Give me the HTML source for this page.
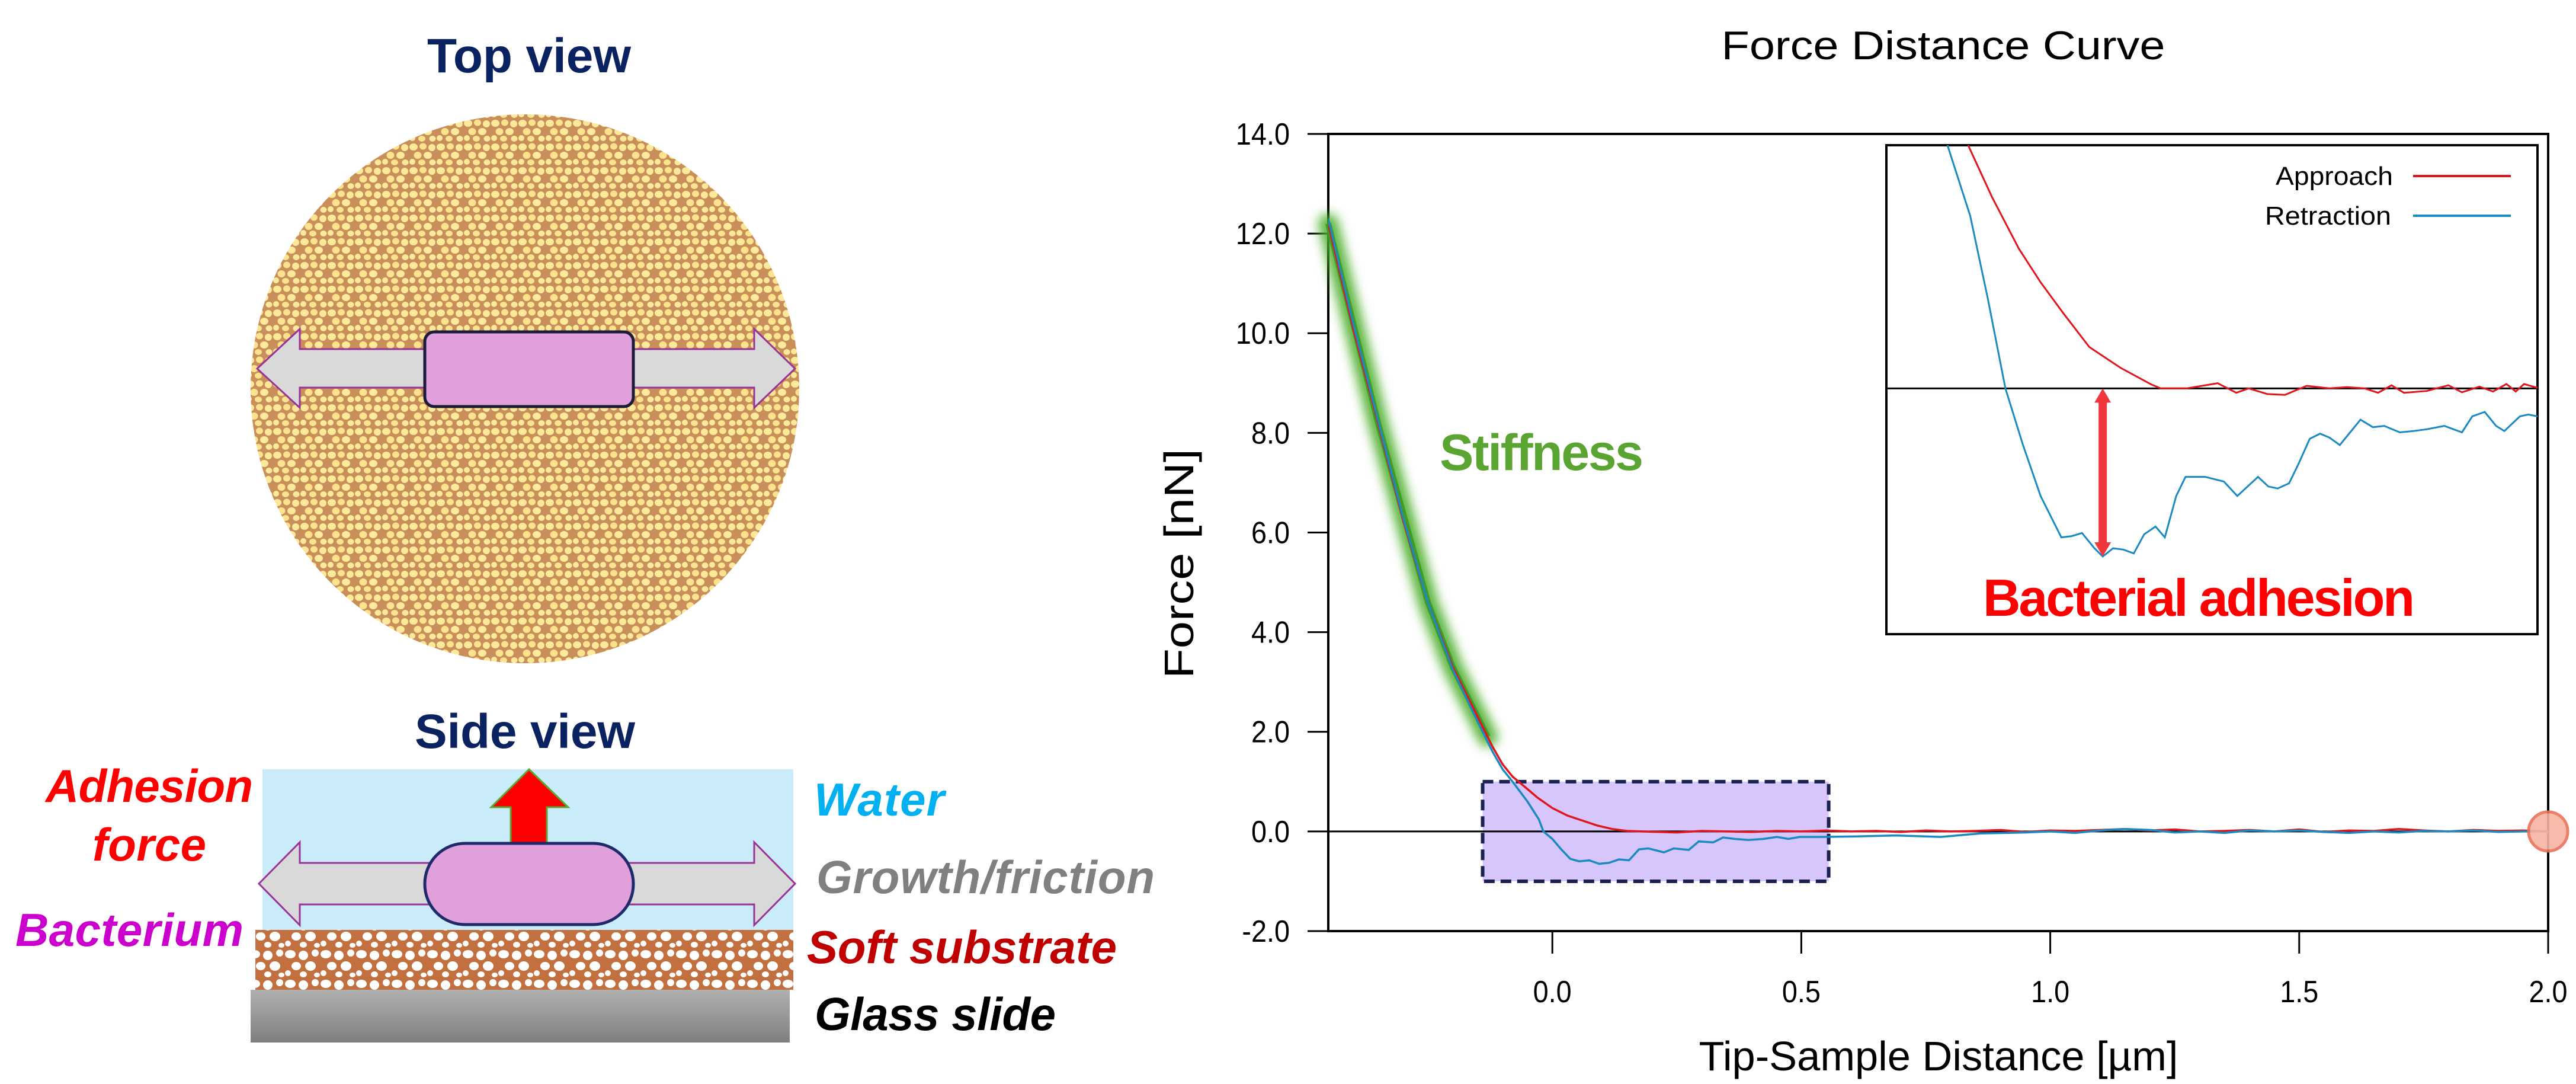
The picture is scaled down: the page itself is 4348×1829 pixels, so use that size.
<!DOCTYPE html>
<html><head><meta charset="utf-8">
<style>
html,body{margin:0;padding:0;background:#fff;}
svg{display:block;}
text{font-family:"Liberation Sans",Arial,sans-serif;}
</style></head>
<body>
<svg id="root" width="4348" height="1829" viewBox="0 0 4348 1829" xmlns="http://www.w3.org/2000/svg">
<defs>
  <pattern id="cells" width="46" height="40" patternUnits="userSpaceOnUse">
    <rect width="46" height="40" fill="#c98f5a"/>
    <ellipse cx="8" cy="8" rx="7" ry="6" fill="#fde99a"/>
    <ellipse cx="24" cy="7" rx="6" ry="5.5" fill="#fbe28c"/>
    <ellipse cx="39" cy="9" rx="6" ry="6" fill="#fde99a"/>
    <ellipse cx="15" cy="22" rx="6.5" ry="6" fill="#fbe28c"/>
    <ellipse cx="32" cy="22" rx="7" ry="6" fill="#fde99a"/>
    <ellipse cx="6" cy="33" rx="5" ry="5" fill="#fde99a"/>
    <ellipse cx="22" cy="34" rx="6" ry="5" fill="#fbe28c"/>
    <ellipse cx="40" cy="34" rx="5.5" ry="5" fill="#fde99a"/>
  </pattern>
  <pattern id="subs" width="60" height="50" patternUnits="userSpaceOnUse">
    <rect width="60" height="50" fill="#c2703f"/>
    <ellipse cx="10" cy="10" rx="9" ry="7" fill="#fff"/>
    <ellipse cx="32" cy="12" rx="8" ry="8" fill="#fff"/>
    <ellipse cx="52" cy="8" rx="6" ry="6" fill="#fff"/>
    <ellipse cx="20" cy="30" rx="8" ry="7" fill="#fff"/>
    <ellipse cx="44" cy="30" rx="9" ry="8" fill="#fff"/>
    <ellipse cx="6" cy="42" rx="5" ry="5" fill="#fff"/>
    <ellipse cx="32" cy="44" rx="6" ry="5" fill="#fff"/>
    <ellipse cx="55" cy="45" rx="5" ry="4" fill="#fff"/>
  </pattern>
  <linearGradient id="glass" x1="0" y1="0" x2="0" y2="1">
    <stop offset="0" stop-color="#b0b0b0"/><stop offset="1" stop-color="#7f7f7f"/>
  </linearGradient>
  <filter id="blur" x="-20%" y="-20%" width="140%" height="140%"><feGaussianBlur stdDeviation="9"/></filter>
  <clipPath id="insetClip"><rect x="3184" y="245" width="1099" height="825"/></clipPath>
  <clipPath id="plotClip"><rect x="2242" y="226" width="2059" height="1345"/></clipPath>
</defs>

<!-- LEFT DIAGRAM -->
<g>
  <text x="893" y="122" text-anchor="middle" font-size="82" font-weight="bold" fill="#0b2260" textLength="344">Top view</text>
  <circle cx="886" cy="656" r="463" fill="url(#cells)"/>
  <path d="M434,622 L506,555 L506,589 L1273,589 L1273,555 L1342,622 L1273,688 L1273,654 L506,654 L506,688 Z" fill="#d9d9d9" stroke="#993399" stroke-width="3"/>
  <rect x="717" y="560" width="352" height="126" rx="16" fill="#e0a0dc" stroke="#1b1b3a" stroke-width="5"/>

  <text x="886" y="1262" text-anchor="middle" font-size="82" font-weight="bold" fill="#0b2260" textLength="372">Side view</text>
  <rect x="443" y="1298" width="896" height="271" fill="#c9ebfa"/>
  <rect x="431" y="1569" width="908" height="101" fill="url(#subs)"/>
  <rect x="423" y="1670" width="910" height="89" fill="url(#glass)"/>
  <path d="M862,1440 L862,1362 L829,1362 L893,1298 L959,1362 L923,1362 L923,1440 Z" fill="#ff0000" stroke="#5aa832" stroke-width="3"/>
  <path d="M437,1491 L506,1421 L506,1456 L1273,1456 L1273,1421 L1342,1491 L1273,1561 L1273,1526 L506,1526 L506,1561 Z" fill="#d9d9d9" stroke="#993399" stroke-width="3"/>
  <rect x="717" y="1423" width="352" height="137" rx="68" fill="#e0a0dc" stroke="#1f2a6b" stroke-width="5"/>

  <g font-weight="bold" font-style="italic" font-size="78">
    <text x="77" y="1353" fill="#ff0000" textLength="350">Adhesion</text>
    <text x="156" y="1452" fill="#ff0000" textLength="192">force</text>
    <text x="26" y="1596" fill="#cc00cc" textLength="385">Bacterium</text>
    <text x="1374" y="1376" fill="#00b0f0" textLength="220">Water</text>
    <text x="1378" y="1507" fill="#808080" textLength="571">Growth/friction</text>
    <text x="1362" y="1625" fill="#c00000" textLength="523">Soft substrate</text>
    <text x="1375" y="1738" fill="#000" textLength="407">Glass slide</text>
  </g>
</g>

<!-- CHART -->
<g id="chart">
  <text x="3280" y="100" text-anchor="middle" font-size="68" fill="#000" textLength="749" lengthAdjust="spacingAndGlyphs">Force Distance Curve</text>
  <text x="3272" y="1806" text-anchor="middle" font-size="70" fill="#000" textLength="809" lengthAdjust="spacingAndGlyphs">Tip-Sample Distance  [µm]</text>
  <text transform="translate(2014,951) rotate(-90)" text-anchor="middle" font-size="70" fill="#000" textLength="388" lengthAdjust="spacingAndGlyphs">Force  [nN]</text>
  <g id="axes"></g>
  <g id="plot"></g>
  <g id="inset"></g>
</g>
</svg>
<script>
// ---- main data ----
const approachX = [-0.45,-0.40,-0.35,-0.30,-0.25,-0.20,-0.15,-0.12,-0.10,-0.08,-0.05,-0.03,0.00,0.03,0.06,0.09,0.12,0.15,0.18,0.25,0.30,0.35,0.40,0.45,0.50,0.55,0.60,0.65,0.70,0.75,0.80,0.85,0.90,0.95,1.00,1.05,1.10,1.15,1.20,1.25,1.30,1.35,1.40,1.45,1.50,1.55,1.60,1.65,1.70,1.75,1.80,1.85,1.90,1.95,2.00];
const approachY = [12.2,10.1,8.2,6.25,4.6,3.3,2.3,1.7,1.35,1.1,0.85,0.68,0.47,0.32,0.22,0.12,0.05,0.01,0.0,-0.02,0.01,0.0,-0.01,0.01,0.0,0.02,0.0,0.01,-0.01,0.02,0.0,0.01,0.03,-0.01,0.02,0.01,0.03,0.05,0.02,0.04,0.0,0.01,0.03,0.0,0.04,-0.01,0.02,0.01,0.05,0.02,0.0,0.03,0.01,0.02,0.0];
const retractX = [-0.45,-0.40,-0.35,-0.30,-0.25,-0.20,-0.15,-0.12,-0.10,-0.08,-0.05,-0.027,-0.018,0.0,0.017,0.036,0.054,0.074,0.094,0.114,0.134,0.154,0.174,0.193,0.224,0.244,0.274,0.294,0.323,0.343,0.366,0.394,0.424,0.451,0.474,0.497,0.54,0.61,0.69,0.78,0.86,0.95,1.00,1.05,1.10,1.15,1.20,1.25,1.30,1.35,1.40,1.45,1.50,1.55,1.60,1.65,1.70,1.75,1.80,1.85,1.90,1.95,2.00];
const retractY = [12.3,10.2,8.25,6.3,4.6,3.25,2.2,1.6,1.25,1.0,0.6,0.24,0.0,-0.15,-0.35,-0.55,-0.6,-0.58,-0.65,-0.63,-0.56,-0.58,-0.36,-0.34,-0.42,-0.34,-0.37,-0.2,-0.22,-0.12,-0.15,-0.17,-0.15,-0.11,-0.15,-0.11,-0.11,-0.1,-0.08,-0.11,-0.04,-0.02,0.0,-0.03,0.02,0.05,0.03,-0.02,0.0,-0.03,0.02,0.0,0.02,-0.01,-0.03,0.0,-0.02,0.01,0.0,0.02,-0.01,0.0,0.0];
const stiffnessX = [-0.45,-0.35,-0.25,-0.20,-0.15,-0.13];
const stiffnessY = [12.2,8.2,4.6,3.3,2.3,1.9];
const yTicks = [-2,0,2,4,6,8,10,12,14];
const yTickLabels = ["-2.0","0.0","2.0","4.0","6.0","8.0","10.0","12.0","14.0"];
const xTicks = [0,0.5,1.0,1.5,2.0];
const xTickLabels = ["0.0","0.5","1.0","1.5","2.0"];
// ---- inset data ----
const insetApproachX = [-0.036,-0.013,0.013,0.034,0.056,0.081,0.111,0.141,0.150,0.175,0.193,0.205,0.223,0.235,0.253,0.270,0.291,0.313,0.330,0.347,0.360,0.373,0.385,0.407,0.428,0.441,0.458,0.471,0.484,0.493,0.501,0.514];
const insetApproachY = [0.94,0.74,0.54,0.41,0.29,0.16,0.08,0.015,0.0,0.0,0.012,0.02,-0.017,0.0,-0.022,-0.025,0.01,0.0,0.005,0.0,-0.017,0.012,-0.017,-0.01,0.012,-0.015,0.007,-0.012,0.017,-0.012,0.017,0.002];
const insetRetractX = [-0.056,-0.034,-0.017,0.0,0.017,0.034,0.054,0.064,0.074,0.086,0.094,0.104,0.114,0.124,0.134,0.145,0.154,0.165,0.174,0.193,0.211,0.224,0.244,0.254,0.263,0.274,0.283,0.294,0.304,0.313,0.323,0.343,0.355,0.366,0.381,0.394,0.407,0.424,0.441,0.451,0.463,0.474,0.482,0.497,0.505,0.514];
const insetRetractY = [0.94,0.667,0.347,0.0,-0.219,-0.416,-0.576,-0.571,-0.559,-0.618,-0.65,-0.618,-0.623,-0.638,-0.564,-0.534,-0.576,-0.416,-0.342,-0.342,-0.36,-0.416,-0.342,-0.379,-0.387,-0.367,-0.293,-0.195,-0.175,-0.19,-0.219,-0.121,-0.15,-0.145,-0.17,-0.165,-0.158,-0.145,-0.17,-0.108,-0.091,-0.145,-0.165,-0.108,-0.101,-0.108];
const adhesionMinY = -0.65;
const adhesionX = 0.094;

const NS = "http://www.w3.org/2000/svg";
function mk(tag, attrs, parent){const e=document.createElementNS(NS,tag);for(const k in attrs)e.setAttribute(k,attrs[k]);parent.appendChild(e);return e;}
const X0=2242,X1=4301,Y0=1571,Y1=226, xmin=-0.45,xmax=2.0,ymin=-2,ymax=14;
const sx=v=>X0+(v-xmin)/(xmax-xmin)*(X1-X0);
const sy=v=>Y0-(v-ymin)/(ymax-ymin)*(Y0-Y1);
const IX0=3184,IX1=4283,IY0=1070,IY1=245, ixmin=-0.115,ixmax=0.514,iymin=-0.95,iymax=0.94;
const isx=v=>IX0+(v-ixmin)/(ixmax-ixmin)*(IX1-IX0);
const isy=v=>IY0-(v-iymin)/(iymax-iymin)*(IY0-IY1);
function pathD(xs,ys,fx,fy){return xs.map((x,i)=>(i?"L":"M")+fx(x).toFixed(1)+","+fy(ys[i]).toFixed(1)).join(" ");}

const axes=document.getElementById('axes'), plot=document.getElementById('plot'), inset=document.getElementById('inset');
let fr=mk('rect',{x:X0,y:Y1,width:X1-X0,height:Y0-Y1,fill:'none',stroke:'#000','stroke-width':4},axes);


yTicks.forEach((v,i)=>{
  const t=mk('line',{x1:2207,x2:X0,y1:sy(v),y2:sy(v),stroke:'#000','stroke-width':3},axes);
  
  
  const l=mk('text',{x:2177,y:sy(v)+18,'text-anchor':'end','font-size':52,fill:'#000',transform:`translate(2177,0) scale(0.9,1) translate(-2177,0)`},axes);
  l.textContent=yTickLabels[i];
  
  
});
xTicks.forEach((v,i)=>{
  const t=mk('line',{x1:sx(v),x2:sx(v),y1:Y0,y2:1609,stroke:'#000','stroke-width':3},axes);
  
  
  const l=mk('text',{x:sx(v),y:1691,'text-anchor':'middle','font-size':52,fill:'#000',transform:`translate(${sx(v)},0) scale(0.9,1) translate(${-sx(v)},0)`},axes);
  l.textContent=xTickLabels[i];
  
  
});
const pb=mk('rect',{x:sx(-0.14),y:sy(1.0),width:sx(0.555)-sx(-0.14),height:sy(-1.0)-sy(1.0),fill:'#d6c6fb',stroke:'#1a2050','stroke-width':6,'stroke-dasharray':'18,10'},plot);


const zl=mk('line',{x1:X0,x2:X1,y1:sy(0),y2:sy(0),stroke:'#000','stroke-width':3},plot);


const g=mk('path',{d:pathD(stiffnessX,stiffnessY,sx,sy),fill:'none',stroke:'#4caf2a','stroke-width':34,'stroke-linecap':'round',filter:'url(#blur)',opacity:0.9},plot);


const g2=mk('path',{d:pathD(stiffnessX,stiffnessY,sx,sy),fill:'none',stroke:'#3f9a2a','stroke-width':10},plot);


const cg=mk('g',{'clip-path':'url(#plotClip)'},plot);
const ap=mk('path',{d:pathD(approachX,approachY,sx,sy),fill:'none',stroke:'#e0161e','stroke-width':3.5},cg);


const rp=mk('path',{d:pathD(retractX,retractY,sx,sy),fill:'none',stroke:'#1a8ac0','stroke-width':3.5},cg);


const st=mk('text',{x:2430,y:793,'font-size':86,'font-weight':'bold',fill:'#5aa532',textLength:344},plot);
st.textContent='Stiffness';


const oc=mk('circle',{cx:sx(2.0),cy:sy(0),r:33,fill:'#f7b3a3',stroke:'#e8735a','stroke-width':5,opacity:0.9},plot);



const ib=mk('rect',{x:IX0,y:IY1,width:IX1-IX0,height:IY0-IY1,fill:'#fff',stroke:'#000','stroke-width':4},inset);


const il=mk('line',{x1:IX0,x2:IX1,y1:isy(0),y2:isy(0),stroke:'#000','stroke-width':3},inset);


const ic=mk('g',{'clip-path':'url(#insetClip)'},inset);
const iap=mk('path',{d:pathD(insetApproachX,insetApproachY,isx,isy),fill:'none',stroke:'#e0161e','stroke-width':3},ic);


const irp=mk('path',{d:pathD(insetRetractX,insetRetractY,isx,isy),fill:'none',stroke:'#1a8ac0','stroke-width':3},ic);


const ax=isx(adhesionX), ya=isy(0), yb=isy(adhesionMinY);
const arr=mk('path',{d:`M${ax-7},${ya+24} L${ax-7},${yb-24} L${ax-14},${yb-24} L${ax},${yb} L${ax+14},${yb-24} L${ax+7},${yb-24} L${ax+7},${ya+24} L${ax+14},${ya+24} L${ax},${ya} L${ax-14},${ya+24} Z`,fill:'#f0383c'},inset);


const ba=mk('text',{x:3347,y:1039,'font-size':88,'font-weight':'bold',fill:'#ff0000',textLength:729},inset);
ba.textContent='Bacterial adhesion';


const lg=mk('g',{},inset);


const la=mk('text',{x:4039,y:312,'text-anchor':'end','font-size':44,fill:'#000',textLength:198,lengthAdjust:'spacingAndGlyphs'},lg);
la.textContent='Approach';


const lal=mk('line',{x1:4073,x2:4238,y1:297,y2:297,stroke:'#e0161e','stroke-width':4},lg);


const lr=mk('text',{x:4036,y:379,'text-anchor':'end','font-size':44,fill:'#000',textLength:213,lengthAdjust:'spacingAndGlyphs'},lg);
lr.textContent='Retraction';


const lrl=mk('line',{x1:4073,x2:4238,y1:364,y2:364,stroke:'#1a8ac0','stroke-width':4},lg);


</script>
</body></html>
